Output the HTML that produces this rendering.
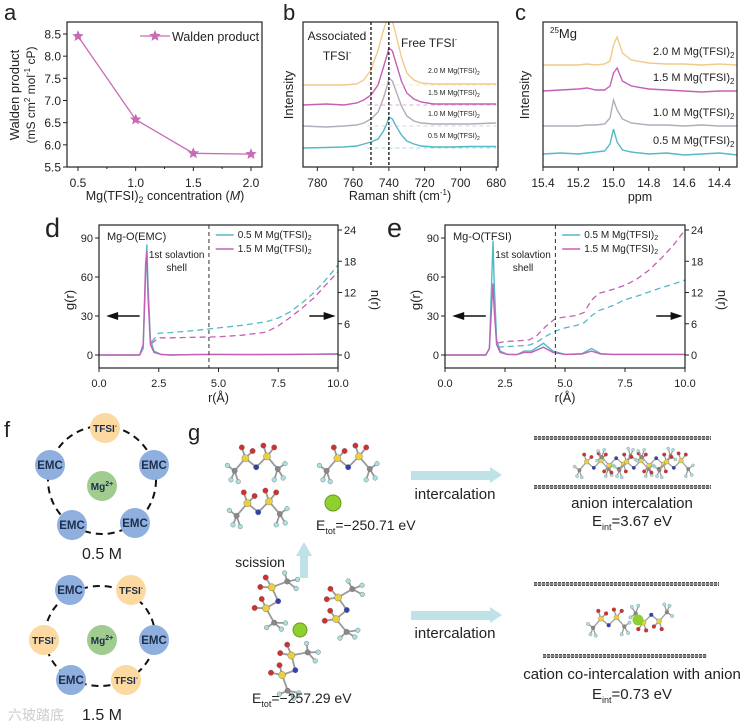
<!DOCTYPE html>
<html><head><meta charset="utf-8">
<style>
body{margin:0;background:#fff;}
svg{display:block;font-family:"Liberation Sans","Noto Sans CJK SC",sans-serif;}
</style></head>
<body>
<svg id="fig" width="750" height="727" viewBox="0 0 750 727" xmlns="http://www.w3.org/2000/svg"></svg>
<script>
// ---------- DATA ----------
const waldenConc = [0.5, 1.0, 1.5, 2.0];
const waldenVals = [8.45, 6.57, 5.81, 5.79];
const waldenYTicks = [5.5, 6.0, 6.5, 7.0, 7.5, 8.0, 8.5];
const waldenXTicks = [0.5, 1.0, 1.5, 2.0];

const ramanShift = [788,775,765,758,754,750,746,743,741,740,738,736,733,730,726,722,715,705,695,680];
const ramanTeal   = [0,0.5,1,2,4,6,9,17,25,31,29,22,13,7,4,2,1,1,1.5,1.5];
const ramanGray   = [0,-1,0,1,3,7,14,28,40,48,45,35,20,10,5,3,2,2,2,3];
const ramanPurple = [0,1,0,2,5,10,20,38,50,57,54,42,24,12,6,3,1,1,1,1];
const ramanYellow = [0,0,0,1,5,15,35,55,65,68,64,50,28,12,5,2,1,1,1,1];
const ramanOffsets = [19, 41, 62, 82];
const ramanXTicks = [780,760,740,720,700,680];
const ramanLabels = ["0.5 M Mg(TFSI)","1.0 M Mg(TFSI)","1.5 M Mg(TFSI)","2.0 M Mg(TFSI)"];

const nmrPpm = [15.4,15.3,15.2,15.15,15.1,15.05,15.02,15.0,14.98,14.95,14.9,14.8,14.7,14.6,14.5,14.4,14.3];
const nmrTeal   = [0,1,0,1,2,3,10,25,12,4,2,0,1,-1,0,1,-1];
const nmrGray   = [0,0,0,1,1,2,8,26,16,7,3,1,1,0,1,0,0];
const nmrPurple = [0,1,2,3,1,1,5,18,23,10,5,2,1,0,-1,0,0];
const nmrYellow = [0,0,0,1,0,1,4,20,28,12,5,2,1,1,0,1,0];
const nmrOffsets = [13, 41, 76, 102];
const nmrXTicks = [15.4,15.2,15.0,14.8,14.6,14.4];

const dGr = [0,1.7,1.85,1.95,2.0,2.05,2.15,2.3,2.6,3,4,5,6,8,10];
const dGTeal = [0,0,5,60,85,55,12,3,0.5,0,0.3,0.5,0.3,0.5,0.8];
const dGPurple = [0,0,8,70,80,45,8,2,0.5,0,0.3,0.5,0.3,0.5,0.8];
const dNr = [2.2,2.5,3,4,5,6,7,7.5,8,8.5,9,9.5,10];
const dNTeal = [2.5,4.2,4.3,4.7,5.2,5.7,6.4,7.1,8.3,10,12,14.5,17.3];
const dNPurple = [2.2,3.3,3.3,3.4,3.5,3.8,4.4,5.6,7.2,9,11,13.5,16];

const eGr = [0,1.7,1.85,1.95,2.0,2.05,2.15,2.3,2.6,3,3.3,3.6,4.1,4.5,5,5.7,6.1,6.5,7,8,10];
const eGTeal = [0,0,5,60,88,55,12,3,0.5,0.3,3,3,9,3,0.5,1,5,1,0.5,0.5,0.5];
const eGPurple = [0,0,5,40,55,35,8,2,0.5,0.3,2,2,6,2,0.5,0.8,3,0.8,0.5,0.5,0.5];
const eNr = [2.2,2.5,3,3.5,3.8,4.2,4.6,5,5.5,5.8,6.1,6.4,7,7.5,8,8.5,9,9.5,10];
const eNTeal = [1.5,1.6,1.7,1.9,2.4,3.6,4.6,5.2,5.7,6.2,7.5,8.5,9.5,10.6,11.3,12.1,12.9,13.6,14.4];
const eNPurple = [2.3,2.6,2.7,2.9,3.6,5.5,7.0,7.3,7.6,8.2,10.5,11.8,12.6,13.4,14.6,16.3,18.5,21,24];

const rdfXTicks = [0,2.5,5,7.5,10];
const rdfGTicks = [0,30,60,90];
const rdfNTicks = [0,6,12,18,24];

// ---------- HELPERS ----------
const NS="http://www.w3.org/2000/svg";
const svg=document.getElementById('fig');
function el(tag,attrs,parent){const e=document.createElementNS(NS,tag);for(const k in attrs)e.setAttribute(k,attrs[k]);(parent||svg).appendChild(e);return e;}
function txt(x,y,s,size,parent,extra){const t=el('text',Object.assign({x:x,y:y,'font-size':size,fill:'#222'},extra||{}),parent);t.textContent=s;return t;}
function lin(d0,d1,r0,r1){return v=>r0+(v-d0)/(d1-d0)*(r1-r0);}
function pathFrom(xs,ys,sx,sy){return xs.map((x,i)=>(i?'L':'M')+sx(x).toFixed(1)+','+sy(ys[i]).toFixed(1)).join(' ');}
const TEAL='#52b9c9',PURP='#c460b3',GRAY='#b5aabb',YEL='#f2c98a';

// ---------- PANEL A ----------
const ga=el('g',{});

let t=txt(4,20,'a',22,ga);
const ax=lin(0.5,2.0,78,251), ay=lin(5.5,8.5,167,34);
let fr=el('rect',{x:67,y:22,width:195,height:145,fill:'none',stroke:'#222','stroke-width':1.2},ga);

waldenYTicks.forEach(v=>{el('line',{x1:67,x2:63,y1:ay(v),y2:ay(v),stroke:'#222'},ga);let tt=txt(61,ay(v)+4.5,v.toFixed(1),12,ga,{'text-anchor':'end'});});
waldenXTicks.forEach(v=>{el('line',{x1:ax(v),x2:ax(v),y1:167,y2:171,stroke:'#222'},ga);let tt=txt(ax(v),187,v.toFixed(1),12,ga,{'text-anchor':'middle'});});
[0.75,1.25,1.75].forEach(v=>el('line',{x1:ax(v),x2:ax(v),y1:167,y2:169,stroke:'#222'},ga));
t=txt(165,200,'',12.5,ga,{'text-anchor':'middle'});t.innerHTML='Mg(TFSI)<tspan font-size="9" dy="3">2</tspan><tspan dy="-3"> concentration (</tspan><tspan font-style="italic">M</tspan>)';

t=txt(0,0,'Walden product',13,ga,{'text-anchor':'middle',transform:'translate(19,95) rotate(-90)'});

t=txt(0,0,'',12,ga,{'text-anchor':'middle',transform:'translate(35,95) rotate(-90)'});
t.innerHTML='(mS cm<tspan font-size="8" dy="-5">2</tspan><tspan dy="5"> mol</tspan><tspan font-size="8" dy="-5">-1</tspan><tspan dy="5"> cP)</tspan>';

let wl=el('path',{d:pathFrom(waldenConc,waldenVals,ax,ay),fill:'none',stroke:'#c86ab6','stroke-width':1.3},ga);

function star(cx,cy,r,parent){let p=[];for(let i=0;i<10;i++){const a=-Math.PI/2+i*Math.PI/5;const rr=i%2?r*0.45:r;p.push((cx+rr*Math.cos(a)).toFixed(1)+','+(cy+rr*Math.sin(a)).toFixed(1));}return el('polygon',{points:p.join(' '),fill:'#c86ab6'},parent);}
waldenConc.forEach((c,i)=>{const s=star(ax(c),ay(waldenVals[i]),6,ga);});
el('line',{x1:140,x2:170,y1:36,y2:36,stroke:'#c86ab6','stroke-width':1.3},ga);
star(155,36,6,ga);
t=txt(172,41,'Walden product',12.5,ga);

// ---------- PANEL B ----------
const gb=el('g',{});
t=txt(283,20,'b',22,gb);
const bx=lin(788,679,303,498), by=lin(0,145,167,22);
el('clipPath',{id:'cb'},gb);el('rect',{x:303,y:22,width:195,height:145},document.getElementById('cb'));
const bSeries=[[ramanTeal,TEAL],[ramanGray,GRAY],[ramanPurple,PURP],[ramanYellow,YEL]];
bSeries.forEach((s,i)=>{const off=ramanOffsets[i];
  el('line',{x1:bx(752),x2:bx(680),y1:by(off),y2:by(off),stroke:s[1],'stroke-dasharray':'4 3','stroke-width':0.8,opacity:0.7,'clip-path':'url(#cb)'},gb);
  let p=el('path',{d:pathFrom(ramanShift,s[0].map(v=>v+off),bx,by),fill:'none',stroke:s[1],'stroke-width':1.4,'clip-path':'url(#cb)'},gb);
  
  let lb=txt(428,by(off)+(i==3?-12:-10),'',7,gb);lb.innerHTML=ramanLabels[i]+'<tspan font-size="5" dy="2">2</tspan>';
  
});
[750,740].forEach(v=>el('line',{x1:bx(v),x2:bx(v),y1:22,y2:167,stroke:'#222','stroke-dasharray':'3 2','stroke-width':1.4},gb));
el('rect',{x:303,y:22,width:195,height:145,fill:'none',stroke:'#222','stroke-width':1.2},gb);
ramanXTicks.forEach(v=>{el('line',{x1:bx(v),x2:bx(v),y1:167,y2:171,stroke:'#222'},gb);let tt=txt(bx(v),187,String(v),12,gb,{'text-anchor':'middle'});});
t=txt(400,200,'',12.5,gb,{'text-anchor':'middle'});t.innerHTML='Raman shift (cm<tspan font-size="8" dy="-5">-1</tspan><tspan dy="5">)</tspan>';

t=txt(0,0,'Intensity',13,gb,{'text-anchor':'middle',transform:'translate(293,95) rotate(-90)'});
t=txt(337,40,'Associated',12,gb,{'text-anchor':'middle'});
t=txt(337,60,'',12,gb,{'text-anchor':'middle'});t.innerHTML='TFSI<tspan font-size="7" dy="-5">-</tspan>';
t=txt(401,47,'',12,gb);t.innerHTML='Free TFSI<tspan font-size="7" dy="-5">-</tspan>';

// ---------- PANEL C ----------
const gc=el('g',{});
t=txt(515,20,'c',22,gc);
const cx_=lin(15.4,14.3,543,737), cy_=lin(0,145,167,22);
const cSeries=[[nmrTeal,TEAL],[nmrGray,GRAY],[nmrPurple,PURP],[nmrYellow,YEL]];
cSeries.forEach((s,i)=>{const off=nmrOffsets[i];
  let p=el('path',{d:pathFrom(nmrPpm,s[0].map(v=>v+off),cx_,cy_),fill:'none',stroke:s[1],'stroke-width':1.4},gc);
  
  let lb=txt(653,cy_(off)-10,'',11,gc);lb.innerHTML=ramanLabels[i]+'<tspan font-size="8" dy="3">2</tspan>';
  
});
el('rect',{x:543,y:22,width:194,height:145,fill:'none',stroke:'#222','stroke-width':1.2},gc);
nmrXTicks.forEach(v=>{el('line',{x1:cx_(v),x2:cx_(v),y1:167,y2:171,stroke:'#222'},gc);let tt=txt(cx_(v),187,v.toFixed(1),12,gc,{'text-anchor':'middle'});});
t=txt(640,201,'ppm',12.5,gc,{'text-anchor':'middle'});
t=txt(0,0,'Intensity',13,gc,{'text-anchor':'middle',transform:'translate(529,95) rotate(-90)'});
t=txt(550,38,'',13,gc);t.innerHTML='<tspan font-size="8" dy="-5">25</tspan><tspan dy="5">Mg</tspan>';

// ---------- PANELS D/E ----------
function rdfPanel(name,letter,lx,x0,x1,title,gR,gT,gP,nR,nT,nP){
  const g=el('g',{});
  let tt=txt(lx,237,letter,27,g);
  const sx=lin(0,10,x0,x1), sg=lin(0,90,355,238), sn=lin(0,24,355,230);
  const cid='clip'+letter;el('clipPath',{id:cid},g);el('rect',{x:x0,y:225,width:x1-x0,height:143},document.getElementById(cid));
  let p;
  p=el('path',{d:pathFrom(nR,nT,sx,sn),fill:'none',stroke:TEAL,'stroke-width':1.3,'stroke-dasharray':'6 4','clip-path':'url(#'+cid+')'},g);
  p=el('path',{d:pathFrom(nR,nP,sx,sn),fill:'none',stroke:PURP,'stroke-width':1.3,'stroke-dasharray':'6 4','clip-path':'url(#'+cid+')'},g);
  p=el('path',{d:pathFrom(gR,gT,sx,sg),fill:'none',stroke:TEAL,'stroke-width':1.4,'clip-path':'url(#'+cid+')'},g);
  p=el('path',{d:pathFrom(gR,gP,sx,sg),fill:'none',stroke:PURP,'stroke-width':1.4,'clip-path':'url(#'+cid+')'},g);
  el('line',{x1:sx(4.6),x2:sx(4.6),y1:225,y2:368,stroke:'#333','stroke-dasharray':'4 3'},g);
  el('rect',{x:x0,y:225,width:x1-x0,height:143,fill:'none',stroke:'#222','stroke-width':1.2},g);
  rdfXTicks.forEach(v=>{el('line',{x1:sx(v),x2:sx(v),y1:368,y2:372,stroke:'#222'},g);let a=txt(sx(v),387,v.toFixed(1),11,g,{'text-anchor':'middle'});});
  rdfGTicks.forEach(v=>{el('line',{x1:x0,x2:x0-4,y1:sg(v),y2:sg(v),stroke:'#222'},g);let a=txt(x0-6,sg(v)+4,String(v),11,g,{'text-anchor':'end'});});
  rdfNTicks.forEach(v=>{el('line',{x1:x1,x2:x1+4,y1:sn(v),y2:sn(v),stroke:'#222'},g);let a=txt(x1+6,sn(v)+4,String(v),11,g);});
  tt=txt(0,0,'g(r)',13,g,{'text-anchor':'middle',transform:'translate('+(x0-25)+',300) rotate(-90)'});
  tt=txt(0,0,'n(r)',13,g,{'text-anchor':'middle',transform:'translate('+(x1+33)+',300) rotate(90)'});
  tt=txt((x0+x1)/2,402,'r(Å)',12.5,g,{'text-anchor':'middle'});
  tt=txt(x0+8,240,title,11,g);
  tt=txt(sx(3.25),258,'1st solavtion',10,g,{'text-anchor':'middle'});tt=txt(sx(3.25),271,'shell',10,g,{'text-anchor':'middle'});
  // arrows
  el('line',{x1:sx(1.7),x2:sx(0.4),y1:sg(30),y2:sg(30),stroke:'#111','stroke-width':1.5},g);
  el('polygon',{points:`${sx(0.3)},${sg(30)} ${sx(0.8)},${sg(30)-4} ${sx(0.8)},${sg(30)+4}`,fill:'#111'},g);
  el('line',{x1:sx(8.8),x2:sx(9.8),y1:sg(30),y2:sg(30),stroke:'#111','stroke-width':1.5},g);
  el('polygon',{points:`${sx(9.9)},${sg(30)} ${sx(9.4)},${sg(30)-4} ${sx(9.4)},${sg(30)+4}`,fill:'#111'},g);
  // legend
  const lx0=sx(4.8)+2;
  [[TEAL,'0.5 M Mg(TFSI)',238],[PURP,'1.5 M Mg(TFSI)',252]].forEach(L=>{
    el('line',{x1:lx0,x2:lx0+18,y1:L[2]-3,y2:L[2]-3,stroke:L[0],'stroke-width':1.4},g);
    let a=txt(lx0+22,L[2],'',10,g);a.innerHTML=L[1]+'<tspan font-size="7" dy="2">2</tspan>';
  });
}
rdfPanel('panel-d','d',45,99,338,'Mg-O(EMC)',dGr,dGTeal,dGPurple,dNr,dNTeal,dNPurple);
rdfPanel('panel-e','e',387,445,685,'Mg-O(TFSI)',eGr,eGTeal,eGPurple,eNr,eNTeal,eNPurple);

// ---------- PANEL F ----------
const gf=el('g',{});
t=txt(4,437,'f',22,gf);
const BLUE='#8fb0de',ORNG='#fbd9a0',GRN='#a0cc90';
function ball(x,y,col,label,parent){
  const c=el('circle',{cx:x,cy:y,r:15,fill:col},parent);
  
  const a=txt(x,y+4,'',label=='EMC'?11.5:10,parent,{'text-anchor':'middle','font-weight':'bold',fill:'#1c2e4a'});
  if(label=='TFSI')a.innerHTML='TFSI<tspan font-size="6" dy="-4">-</tspan>';
  else if(label=='Mg')a.innerHTML='Mg<tspan font-size="7" dy="-4">2+</tspan>';
  else a.textContent=label;
}
el('circle',{cx:102,cy:480,r:54,fill:'none',stroke:'#111','stroke-width':2,'stroke-dasharray':'7 5'},gf);
ball(105,428,ORNG,'TFSI',gf);ball(50,465,BLUE,'EMC',gf);ball(154,465,BLUE,'EMC',gf);ball(102,486,GRN,'Mg',gf);ball(72,525,BLUE,'EMC',gf);ball(135,523,BLUE,'EMC',gf);
t=txt(102,559,'0.5 M',16,gf,{'text-anchor':'middle'});
el('ellipse',{cx:100,cy:636,rx:55,ry:50,fill:'none',stroke:'#111','stroke-width':2,'stroke-dasharray':'7 5'},gf);
ball(70,590,BLUE,'EMC',gf);ball(131,590,ORNG,'TFSI',gf);ball(44,640,ORNG,'TFSI',gf);ball(102,640,GRN,'Mg',gf);ball(154,640,BLUE,'EMC',gf);ball(71,680,BLUE,'EMC',gf);ball(126,680,ORNG,'TFSI',gf);
t=txt(102,720,'1.5 M',16,gf,{'text-anchor':'middle'});
t=txt(8,720,'六玻踏底',14,gf,{fill:'#ccc'});

// ---------- PANEL G ----------
const gg=el('g',{});
t=txt(188,440,'g',22,gg);
function atom(x,y,r,c,p){el('circle',{cx:x,cy:y,r:r,fill:c,stroke:'#666','stroke-width':0.4},p);}
function tfsi(x,y,s,parent,rot){
  const m=el('g',{transform:`translate(${x},${y}) rotate(${rot||0}) scale(${s})`},parent);
  
  const pts={C1:[-26,12],S1:[-14,-2],N:[-2,8],S2:[10,-4],C2:[22,10],O1:[-18,-14],O2:[-6,-10],O3:[6,-16],O4:[18,-14],F1:[-34,6],F2:[-30,22],F3:[-22,24],F4:[30,4],F5:[28,20],F6:[18,22]};
  [['C1','S1'],['S1','N'],['N','S2'],['S2','C2'],['S1','O1'],['S1','O2'],['S2','O3'],['S2','O4'],['C1','F1'],['C1','F2'],['C1','F3'],['C2','F4'],['C2','F5'],['C2','F6']].forEach(b=>el('line',{x1:pts[b[0]][0],y1:pts[b[0]][1],x2:pts[b[1]][0],y2:pts[b[1]][1],stroke:'#9a9a9a','stroke-width':2},m));
  for(const k in pts){const c=k[0]=='S'?'#e8d040':k[0]=='O'?'#d03030':k[0]=='N'?'#3040b0':k[0]=='C'?'#888':'#a8e0e0';atom(pts[k][0],pts[k][1],k[0]=='S'?4:k[0]=='F'?2.6:3,c,m);}
}
tfsi(258,460,0.9,gg);tfsi(350,460,0.9,gg);tfsi(260,505,0.9,gg);
let mg=el('circle',{cx:333,cy:503,r:8,fill:'#8fd030',stroke:'#6a9a20'},gg);
t=txt(316,530,'',14,gg);t.innerHTML='E<tspan font-size="9" dy="4">tot</tspan><tspan dy="-4">=−250.71 eV</tspan>';
tfsi(272,597,0.9,gg,-70);tfsi(340,607,0.9,gg,-80);tfsi(290,665,0.9,gg,-60);
mg=el('circle',{cx:300,cy:630,r:7,fill:'#8fd030',stroke:'#6a9a20'},gg);
t=txt(252,703,'',14,gg);t.innerHTML='E<tspan font-size="9" dy="4">tot</tspan><tspan dy="-4">=−257.29 eV</tspan>';
el('rect',{x:300,y:555,width:8,height:23,fill:'#bfe2e6'},gg);
el('polygon',{points:'296,556 312,556 304,542',fill:'#bfe2e6'},gg);
t=txt(260,567,'scission',14,gg,{'text-anchor':'middle'});
[[475,499],[615,638]].forEach((a,i)=>{
  el('rect',{x:411,y:a[0]-4,width:80,height:9,fill:'#bfe2e6'},gg);
  el('polygon',{points:`490,${a[0]-8} 502,${a[0]} 490,${a[0]+8}`,fill:'#bfe2e6'},gg);
  let l=txt(455,a[1],'intercalation',15,gg,{'text-anchor':'middle'});
});
function layer(x1,x2,y){const l=el('line',{x1:x1,x2:x2,y1:y,y2:y,stroke:'#555','stroke-width':4,'stroke-dasharray':'3 1'},gg);el('line',{x1:x1,x2:x2,y1:y,y2:y,stroke:'#aaa','stroke-width':1.2},gg);}
layer(534,711,438);layer(534,711,487);layer(534,719,584);layer(543,707,656);
for(let i=0;i<5;i++)tfsi(595+i*20,463,0.6,gg,i%2?180:0);
tfsi(610,620,0.65,gg,0);tfsi(650,620,0.65,gg,180);
mg=el('circle',{cx:638,cy:620,r:5.5,fill:'#8fd030'},gg);
t=txt(632,508,'anion intercalation',15,gg,{'text-anchor':'middle'});
t=txt(632,526,'',15,gg,{'text-anchor':'middle'});t.innerHTML='E<tspan font-size="9" dy="4">int</tspan><tspan dy="-4">=3.67 eV</tspan>';
t=txt(632,679,'cation co-intercalation with anion',15,gg,{'text-anchor':'middle'});
t=txt(632,699,'',15,gg,{'text-anchor':'middle'});t.innerHTML='E<tspan font-size="9" dy="4">int</tspan><tspan dy="-4">=0.73 eV</tspan>';
</script>
</body></html>
